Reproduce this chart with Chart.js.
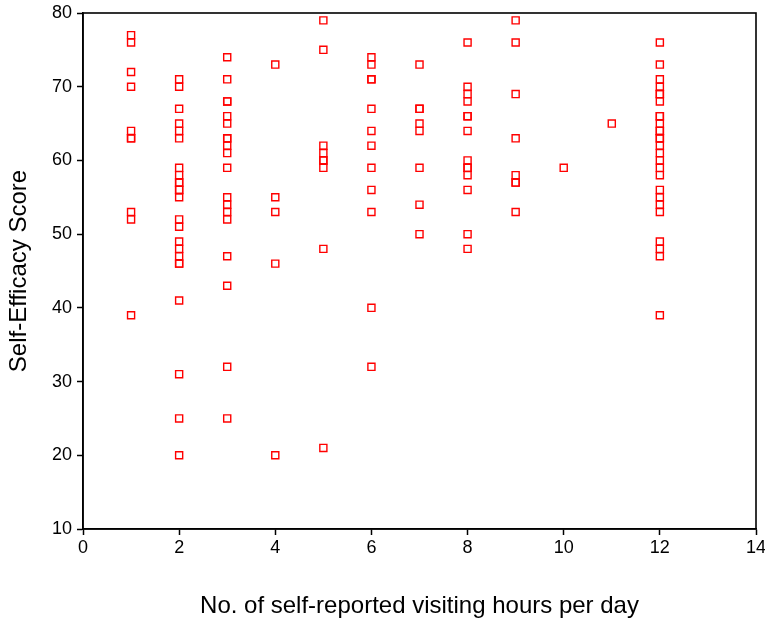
<!DOCTYPE html>
<html>
<head>
<meta charset="utf-8">
<script src="https://cdn.jsdelivr.net/npm/chart.js@4.4.1/dist/chart.umd.min.js"></script>
<style>
  html, body { margin: 0; padding: 0; background: #fff; }
  #wrap { width: 765px; height: 621px; }
</style>
</head>
<body>
<div id="wrap"><canvas id="c" width="765" height="621"></canvas></div>
<script>
// Self-efficacy scores grouped by reported visiting hours per day
const hours1  = [77, 76, 72, 70, 64, 63, 63, 53, 52, 39];
const hours2  = [71, 70, 67, 65, 64, 63, 59, 58, 57, 57, 56, 56, 55, 52, 51, 49, 48, 47, 46, 46, 41, 31, 25, 20];
const hours3  = [74, 71, 68, 68, 66, 65, 63, 63, 62, 61, 59, 55, 54, 53, 52, 47, 43, 32, 25];
const hours4  = [73, 55, 53, 46, 20];
const hours5  = [79, 75, 62, 61, 60, 60, 59, 48, 21];
const hours6  = [74, 73, 71, 71, 67, 64, 62, 59, 56, 53, 40, 32];
const hours7  = [73, 67, 67, 65, 64, 59, 54, 50];
const hours8  = [76, 70, 69, 68, 66, 66, 64, 60, 59, 59, 58, 56, 50, 48];
const hours9  = [79, 76, 69, 63, 58, 57, 57, 53];
const hours10 = [59];
const hours11 = [65];
const hours12 = [76, 73, 71, 70, 69, 69, 68, 66, 66, 65, 64, 64, 63, 63, 62, 61, 60, 59, 58, 56, 55, 54, 53, 49, 48, 47, 39];

const groups = [
  [1, hours1], [2, hours2], [3, hours3], [4, hours4], [5, hours5], [6, hours6],
  [7, hours7], [8, hours8], [9, hours9], [10, hours10], [11, hours11], [12, hours12]
];

const xTicks = [0, 2, 4, 6, 8, 10, 12, 14];
const yTicks = [10, 20, 30, 40, 50, 60, 70, 80];

const points = [];
groups.forEach(([h, scores]) => scores.forEach(s => points.push({ x: h, y: s })));

// Closed frame around the plotting area
const framePlugin = {
  id: 'frame',
  afterDraw(chart) {
    const { ctx, chartArea: a } = chart;
    ctx.save();
    ctx.strokeStyle = '#000';
    ctx.lineWidth = 1.6;
    ctx.strokeRect(a.left, a.top, a.right - a.left, a.bottom - a.top);
    ctx.restore();
  }
};

const FONT = 'Liberation Sans, Arial, sans-serif';

new Chart(document.getElementById('c'), {
  type: 'scatter',
  data: {
    datasets: [{
      data: points,
      pointStyle: 'rect',
      pointRadius: 5,
      pointHoverRadius: 5,
      pointBorderWidth: 1.4,
      pointBorderColor: '#ff0000',
      pointBackgroundColor: 'rgba(255,255,255,0)'
    }]
  },
  options: {
    responsive: false,
    animation: false,
    layout: { padding: { top: 13, right: 9, left: 0, bottom: 0 } },
    plugins: { legend: { display: false }, tooltip: { enabled: false } },
    scales: {
      x: {
        type: 'linear',
        min: 0, max: 14,
        afterBuildTicks(scale) { scale.ticks = xTicks.map(v => ({ value: v })); },
        afterFit(scale) { scale.height = 92; scale.paddingRight = 0; scale.paddingLeft = 0; },
        grid: { display: true, drawOnChartArea: false, drawTicks: true, tickLength: 6, tickColor: '#000', tickWidth: 1.5 },
        border: { display: true, color: '#000', width: 1.6 },
        ticks: { color: '#000', font: { family: FONT, size: 18 }, padding: 2, maxRotation: 0 },
        title: {
          display: true,
          text: 'No. of self-reported visiting hours per day',
          color: '#000',
          font: { family: FONT, size: 24 },
          padding: { top: 0, bottom: 0 }
        }
      },
      y: {
        type: 'linear',
        min: 10, max: 80,
        afterBuildTicks(scale) { scale.ticks = yTicks.map(v => ({ value: v })); },
        afterFit(scale) { scale.width = 83; scale.paddingTop = 0; scale.paddingBottom = 0; },
        grid: { display: true, drawOnChartArea: false, drawTicks: true, tickLength: 6, tickColor: '#000', tickWidth: 1.5 },
        border: { display: true, color: '#000', width: 1.6 },
        ticks: { color: '#000', font: { family: FONT, size: 18 }, padding: 5 },
        title: {
          display: true,
          text: 'Self-Efficacy Score',
          color: '#000',
          font: { family: FONT, size: 24 },
          padding: { top: 5, bottom: 0 }
        }
      }
    }
  },
  plugins: [framePlugin]
});
</script>
</body>
</html>
